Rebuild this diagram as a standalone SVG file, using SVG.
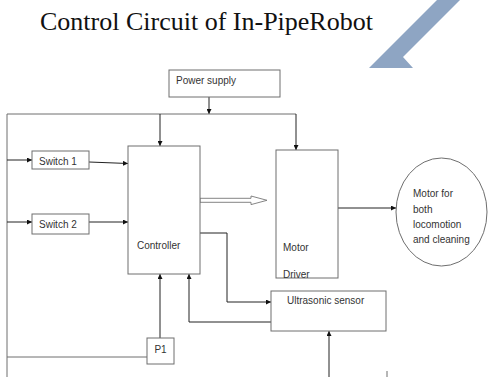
<svg xmlns="http://www.w3.org/2000/svg" width="490" height="377" viewBox="0 0 490 377">
<defs>
<marker id="ah" viewBox="0 0 10 10" refX="10" refY="5" markerWidth="5" markerHeight="5" orient="auto" markerUnits="userSpaceOnUse">
<path d="M0,0 L10,5 L0,10 z" fill="#111"/>
</marker>
<style>
.box{fill:#fff;stroke:#6e6e6e;stroke-width:1}
.lbl{font-family:"Liberation Sans",Arial,sans-serif;font-size:10px;fill:#333}
.ln{fill:none;stroke:#222;stroke-width:1}
.ar{fill:none;stroke:#222;stroke-width:1;marker-end:url(#ah)}
.gl{fill:none;stroke:#6e6e6e;stroke-width:1}
</style>
</defs>
<rect width="490" height="377" fill="#fff"/>
<text x="40" y="30" font-family="Liberation Serif,'Times New Roman',serif" font-size="26" fill="#111">Control Circuit of In-PipeRobot</text>
<polygon points="437,0 460,0 403,57 413,68 369,68" fill="#8EA5C3"/>

<g id="connectors">
<line class="ar" x1="209" y1="97" x2="209" y2="114"/>
<line class="gl" x1="7" y1="114" x2="296" y2="114"/>
<line class="gl" x1="7" y1="114" x2="7" y2="377"/>
<line class="ar" x1="160" y1="114" x2="160" y2="146"/>
<line class="ar" x1="296" y1="114" x2="296" y2="150"/>
<line class="ar" x1="7" y1="160" x2="32" y2="160"/>
<line class="ar" x1="89" y1="162" x2="128" y2="163.5"/>
<line class="ar" x1="7" y1="222" x2="32" y2="222"/>
<line class="ar" x1="89" y1="222" x2="128" y2="222"/>
<polygon points="200,198.3 251,198.3 251,196 267,200.3 251,204.6 251,202.3 200,202.3" fill="#fff" stroke="#777" stroke-width="0.9"/>
<line class="ar" x1="338" y1="208" x2="396" y2="208"/>
<polyline class="ar" points="200,233 227,233 227,302 271,302"/>
<polyline class="ar" points="271,322 189,322 189,274"/>
<line class="ar" x1="160" y1="338" x2="160" y2="274"/>
<line class="gl" x1="147" y1="357" x2="7" y2="357"/>
<line class="ar" x1="329" y1="377" x2="329" y2="331"/>
<line class="gl" x1="387" y1="371" x2="387" y2="377"/>
</g>

<g id="power">
<rect class="box" x="169" y="70" width="111" height="27"/>
<text class="lbl" x="176" y="84">Power supply</text>
</g>
<g id="switch1">
<rect class="box" x="32" y="151" width="57" height="18"/>
<text class="lbl" x="39" y="165">Switch 1</text>
</g>
<g id="switch2">
<rect class="box" x="32" y="214" width="57" height="20"/>
<text class="lbl" x="39" y="228">Switch 2</text>
</g>
<g id="controller">
<rect class="box" x="128" y="146" width="72" height="128"/>
<text class="lbl" x="137" y="249">Controller</text>
</g>
<g id="motordriver">
<rect class="box" x="276" y="150" width="62" height="128"/>
<text class="lbl" x="283" y="251">Motor</text>
<text class="lbl" x="283" y="278">Driver</text>
</g>
<g id="motor">
<ellipse class="box" cx="441.5" cy="212" rx="45.5" ry="54"/>
<text class="lbl" x="413" y="197">Motor for</text>
<text class="lbl" x="413" y="213">both</text>
<text class="lbl" x="413" y="228">locomotion</text>
<text class="lbl" x="413" y="243">and cleaning</text>
</g>
<g id="ultrasonic">
<rect class="box" x="271" y="291" width="115" height="40"/>
<text class="lbl" x="287" y="304">Ultrasonic sensor</text>
</g>
<g id="p1">
<rect class="box" x="147" y="338" width="27" height="26"/>
<text class="lbl" x="160.5" y="353" text-anchor="middle">P1</text>
</g>
</svg>
